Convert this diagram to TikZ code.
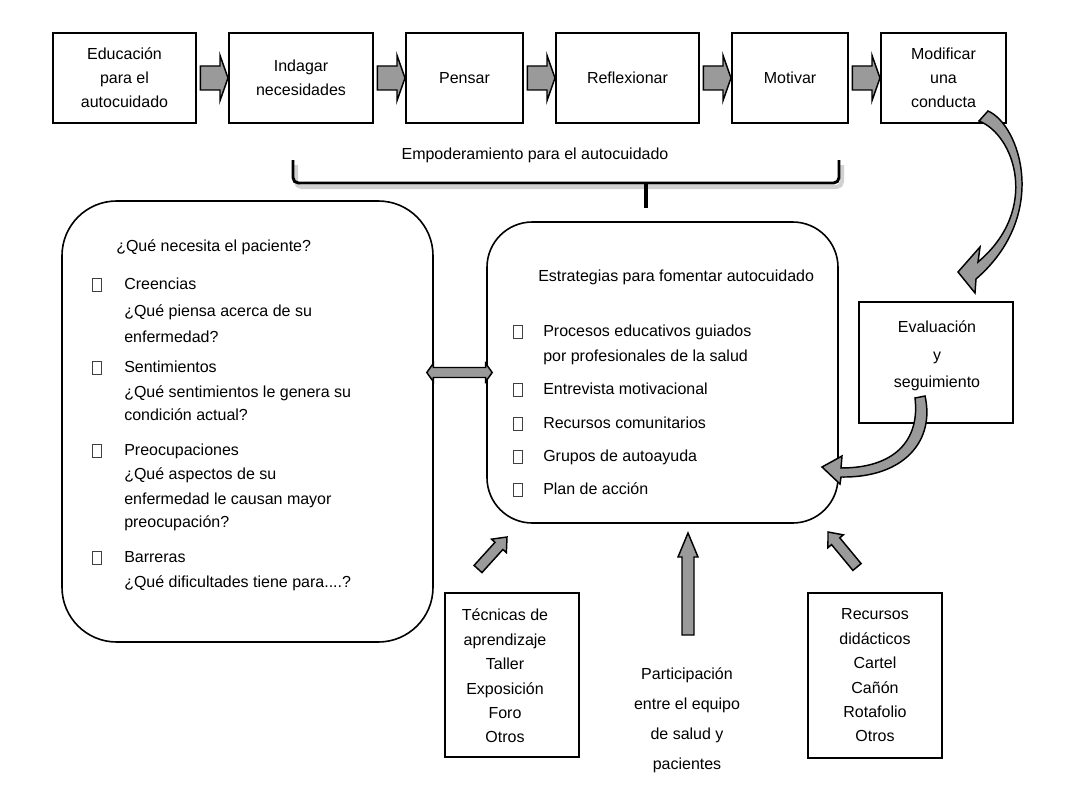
\documentclass[tikz,border=0pt]{standalone}
\usepackage{fontspec}
\setmainfont{Liberation Sans}
\usetikzlibrary{positioning,calc}
\definecolor{arrowGray}{HTML}{9A9A9A}

\tikzset{
  stepbox/.style={draw, line width=1.5pt, minimum height=67.5pt, align=center, inner sep=0pt, font=\fontsize{12}{18}\selectfont},
  roundbox/.style={draw, line width=1.2pt},
  sidebox/.style={draw, line width=1.5pt, align=center, font=\fontsize{12}{18.3}\selectfont},
  txt/.style={anchor=west, inner sep=0pt, text height=9pt, text depth=2.5pt, font=\fontsize{12}{14}\selectfont},
  sqbul/.style={draw=black!75, line width=0.5pt, minimum width=6.75pt, minimum height=9.75pt, inner sep=0pt},
  blockarr/.style={draw=black, line width=1.1pt, fill=arrowGray, line join=miter},
}

% block arrow: tail, tip, body half width, head half width, head length
\newcommand{\blockarrow}[5]{%
  \coordinate (ba-h) at ($(#2)!#5!(#1)$);
  \filldraw[blockarr] ($(#1)!#3!90:(#2)$) -- ($(ba-h)!#3!90:(#2)$) -- ($(ba-h)!#4!90:(#2)$) -- (#2)
    -- ($(ba-h)!#4!-90:(#2)$) -- ($(ba-h)!#3!-90:(#2)$) -- ($(#1)!#3!-90:(#2)$) -- cycle;}
% same with a head at both ends
\newcommand{\dblockarrow}[5]{%
  \coordinate (da-a) at ($(#1)!#5!(#2)$);
  \coordinate (da-b) at ($(#2)!#5!(#1)$);
  \filldraw[blockarr] (#1) -- ($(da-a)!#4!90:(#2)$) -- ($(da-a)!#3!90:(#2)$) -- ($(da-b)!#3!90:(#2)$)
    -- ($(da-b)!#4!90:(#2)$) -- (#2) -- ($(da-b)!#4!-90:(#2)$) -- ($(da-b)!#3!-90:(#2)$)
    -- ($(da-a)!#3!-90:(#2)$) -- ($(da-a)!#4!-90:(#2)$) -- cycle;}

\begin{document}
\begin{tikzpicture}[x=0.75pt, y=-0.75pt, node distance=23.25pt]
  \useasboundingbox (0,0) rectangle (1089,799);

  % top row
  \node[stepbox, minimum width=107.25pt] (edu) at (124.5,78) {Educación\\para el\\autocuidado};
  \node[stepbox, minimum width=108pt, right=of edu] (ind) {Indagar\\necesidades};
  \node[stepbox, minimum width=87.75pt, right=of ind] (pen) {Pensar};
  \node[stepbox, minimum width=107.25pt, right=of pen] (ref) {Reflexionar};
  \node[stepbox, minimum width=87pt, right=of ref] (mot) {Motivar};
  \node[stepbox, minimum width=93.75pt, right=of mot] (mod) {Modificar\\una\\conducta};
  \foreach \a/\b in {edu/ind, ind/pen, pen/ref, ref/mot, mot/mod}{
    \coordinate (tail) at ([xshift=2.5pt]\a.east);
    \blockarrow{tail}{\b.west}{9pt}{17pt}{6pt}
  }

  % brace
  \node[font=\fontsize{12}{14}\selectfont] (empo) at (535,155) {Empoderamiento para el autocuidado};
  \draw[black!18, line width=3pt, rounded corners=4pt] (296,165) -- (296,187) -- (842,187) -- (842,165);
  \draw[line width=2.2pt, rounded corners=4pt] (293,160) -- (293,183) -- (839,183) -- (839,160);
  \draw[line width=2.4pt] (646,183) -- (646,208);

  % what the patient needs
  \node[roundbox, rounded corners=41pt, minimum width=278.25pt, minimum height=330.75pt] (need) at (247.5,421.5) {};
  \node[txt] (needT) at (116,247) {¿Qué necesita el paciente?};
  \foreach \y/\t [count=\i] in {285/Creencias, 312/{¿Qué piensa acerca de su}, 338/{enfermedad?},
      368/Sentimientos, 393/{¿Qué sentimientos le genera su}, 416/{condición actual?},
      451/Preocupaciones, 475/{¿Qué aspectos de su}, 500/{enfermedad le causan mayor}, 523/{preocupación?},
      558/Barreras, 583/{¿Qué dificultades tiene para....?}}
    \node[txt] (need\i) at (124,\y) {\t};
  \foreach \y [count=\i] in {285,368,451,558}
    \node[sqbul] (needB\i) at (96.5,\y) {};

  % strategies
  \node[roundbox, rounded corners=34pt, minimum width=263.25pt, minimum height=225.75pt] (strat) at (662.5,372.5) {};
  \node[txt] (stratT) at (538,277) {Estrategias para fomentar autocuidado};
  \foreach \y/\t [count=\i] in {332/Procesos educativos guiados, 357/por profesionales de la salud,
      390/Entrevista motivacional, 424/Recursos comunitarios, 457/Grupos de autoayuda, 490/Plan de acción}
    \node[txt] (strat\i) at (543,\y) {\t};
  \foreach \y [count=\i] in {332,390,424,457,490}
    \node[sqbul] (stratB\i) at (517.5,\y) {};

  \coordinate (dblL) at ($(need.east |- strat.west)+(-7,0)$);
  \coordinate (dblR) at ($(strat.west)+(6,0)$);
  \dblockarrow{dblL}{dblR}{3.75pt}{7pt}{5pt}

  % follow-up
  \node[sidebox, minimum width=115.5pt, minimum height=90.75pt] (eval) at (936,362.5) {};
  \node[align=center, font=\fontsize{12}{20.6}\selectfont] (evalT) at (937,356) {Evaluación\\y\\seguimiento};
  \filldraw[blockarr] (988,111) .. controls (1020,125) and (1050,215) .. (976,279) -- (975,293) -- (958,272)
    -- (980,247) -- (978,262) .. controls (1040,210) and (1015,135) .. (979,121) -- cycle;
  \filldraw[blockarr] (925,396) .. controls (935,440) and (905,478) .. (841,477) -- (840,484) -- (822,467)
    -- (842,456) -- (841,468) .. controls (895,468) and (920,440) .. (915,398) -- cycle;

  % bottom row
  \node[sidebox, minimum width=100.5pt, minimum height=123pt] (tec) at (512,675) {};
  \node[align=center, font=\fontsize{12}{18.3}\selectfont] (tecT) at (505,676) {Técnicas de\\aprendizaje\\Taller\\Exposición\\Foro\\Otros};
  \node[align=center, font=\fontsize{12}{22.5}\selectfont] (part) at (687,720) {Participación\\entre el equipo\\de salud y\\pacientes};
  \node[sidebox, minimum width=100.5pt, minimum height=123.75pt] (rec) at (875,675.5) {Recursos\\didácticos\\Cartel\\Cañón\\Rotafolio\\Otros};

  \coordinate (tecTail) at (478,569);
  \coordinate (tecTip) at (507,537);
  \blockarrow{tecTail}{tecTip}{4pt}{7.5pt}{9pt}
  \coordinate (partTail) at (688,635);
  \coordinate (partTip) at (688,533);
  \blockarrow{partTail}{partTip}{4.5pt}{7.5pt}{18pt}
  \coordinate (recTail) at (857,567);
  \coordinate (recTip) at (828,532);
  \blockarrow{recTail}{recTip}{4pt}{7.5pt}{9pt}
\end{tikzpicture}
\end{document}
